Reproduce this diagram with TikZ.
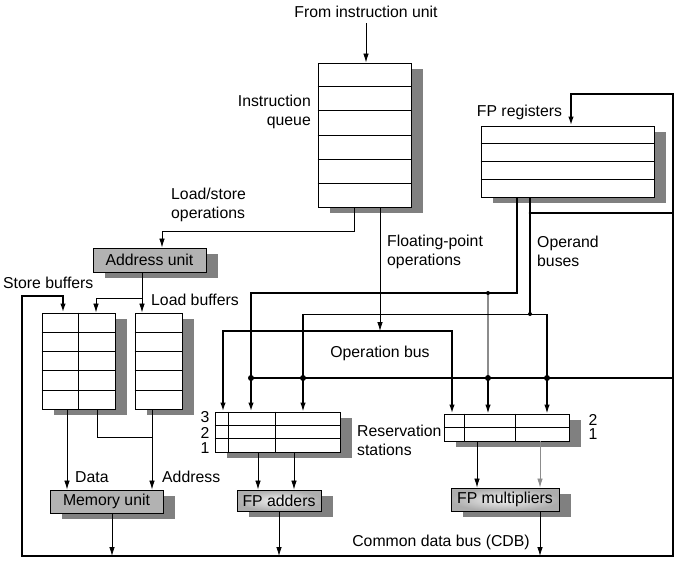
\documentclass[tikz,border=0pt]{standalone}
\usepackage{fontspec}
\setmainfont{Liberation Sans}
\usetikzlibrary{positioning,arrows.meta,shadows,calc}
\tikzstyle{tblbox}=[rectangle, draw=black, fill=white, line width=0.9pt, inner sep=0pt,
 drop shadow={shadow xshift=12pt, shadow yshift=-6pt, fill=black!50, opacity=1}]
\tikzstyle{unitbox}=[rectangle, draw=black, fill=black!30, line width=0.9pt, inner sep=0pt,
 drop shadow={shadow xshift=12pt, shadow yshift=-6pt, fill=black!50, opacity=1}]
\tikzstyle{fpbox}=[unitbox, inner color=black!4, outer color=black!32]
\tikzstyle{lbl}=[inner sep=0pt]
\tikzstyle{wire}=[-, line width=0.8pt]
\tikzstyle{dwire}=[->, line width=0.8pt]
\tikzstyle{mwire}=[->, line width=1.3pt]
\tikzstyle{gwire}=[-, line width=1.2pt, black!45]
\tikzstyle{bus}=[-, line width=1.8pt]
\tikzstyle{dbus}=[->, line width=1.8pt]
\tikzstyle{jdot}=[circle, fill=black, inner sep=0pt, minimum size=6pt]

\begin{document}
\begin{tikzpicture}[x=1pt, y=-1pt, font=\fontsize{15.8}{19}\selectfont,
  >={Latex[length=9pt,width=5.5pt]}, line join=miter]
\useasboundingbox (0,0) rectangle (679,563);

% boxes
\node (iqueue) [tblbox, minimum width=93, minimum height=144] at (364.5,135) {};
\node (fpregs) [tblbox, minimum width=173, minimum height=71] at (567.5,161.5) {};
\node (addrunit) [unitbox, minimum width=113, minimum height=24] at (149.5,260) {Address unit};
\node (storebuf) [tblbox, minimum width=73, minimum height=96] at (78.5,361) {};
\node (loadbuf) [tblbox, minimum width=47, minimum height=96] at (158.5,361) {};
\node (memunit) [unitbox, minimum width=113, minimum height=23] at (106.5,501.5) {Memory unit};
\node (rsadd) [tblbox, minimum width=125, minimum height=40] at (277.5,432) {};
\node (rsmul) [tblbox, minimum width=125, minimum height=27] at (506.5,427.5) {};
\node (fpadd) [fpbox, minimum width=84, minimum height=21] at (279,500.5) {FP adders};
\node (fpmul) [fpbox, minimum width=108, minimum height=23] at (505,499.5) {FP multipliers};

% rows and columns
\foreach \k in {1,...,5}
  \draw[wire] ($(iqueue.north west)!\k/6!(iqueue.south west)$) -- ($(iqueue.north east)!\k/6!(iqueue.south east)$);
\foreach \k in {1,...,3}
  \draw[wire] ($(fpregs.north west)!\k/4!(fpregs.south west)$) -- ($(fpregs.north east)!\k/4!(fpregs.south east)$);
\foreach \k in {1,...,4} {
  \draw[wire] ($(storebuf.north west)!\k/5!(storebuf.south west)$) -- ($(storebuf.north east)!\k/5!(storebuf.south east)$);
  \draw[wire] ($(loadbuf.north west)!\k/5!(loadbuf.south west)$) -- ($(loadbuf.north east)!\k/5!(loadbuf.south east)$);
}
\draw[wire] (storebuf.north) -- (storebuf.south);
\foreach \k in {1,2}
  \draw[wire] ($(rsadd.north west)!\k/3!(rsadd.south west)$) -- ($(rsadd.north east)!\k/3!(rsadd.south east)$);
\foreach \c in {14,61}
  \draw[wire] ($(rsadd.north west)+(\c,0)$) -- ($(rsadd.south west)+(\c,0)$);
\draw[wire] (rsmul.west) -- (rsmul.east);
\foreach \c in {21,72}
  \draw[wire] ($(rsmul.north west)+(\c,0)$) -- ($(rsmul.south west)+(\c,0)$);

% labels
\node (fromtxt) [lbl] at (366,12) {From instruction unit};
\node (iqtxt) [lbl, align=right, anchor=east] at (311,112) {Instruction\\queue};
\node (fprtxt) [lbl] at (519.5,112) {FP registers};
\node (lstxt) [lbl, align=left, anchor=west] at (171,205) {Load/store\\operations};
\node (stbtxt) [lbl, anchor=west] at (3,283) {Store buffers};
\node (lbtxt) [lbl, anchor=west] at (151,300) {Load buffers};
\node (fptxt) [lbl, align=left, anchor=west] at (387,251.5) {Floating-point\\operations};
\node (obtxt) [lbl, align=left, anchor=west] at (537,251.5) {Operand\\buses};
\node (oprtxt) [lbl] at (380,353) {Operation bus};
\node (rstxt) [lbl, align=left, anchor=west] at (357,440) {Reservation\\stations};
\node (rsa3) [lbl] at (205,417) {3};
\node (rsa2) [lbl, below=4pt of rsa3] {2};
\node (rsa1) [lbl, below=4pt of rsa2] {1};
\node (rsm2) [lbl] at (593,420) {2};
\node (rsm1) [lbl, below=3pt of rsm2] {1};
\node (cdbtxt) [lbl] at (441,542) {Common data bus (CDB)};

% instruction queue outputs
\coordinate (lsbend) at (354,231);
\coordinate (lsdrop) at (162,231);
\coordinate (fpop) at (380,331);
\draw[dwire] ([yshift=-5pt]fromtxt.south) -- (fromtxt.south |- iqueue.north);
\draw[dwire] (iqueue.south -| lsbend) -- (lsbend) -- (lsdrop) -- (lsdrop |- addrunit.north);
\draw[dwire] (iqueue.south -| fpop) -- (fpop);

% address unit to buffers
\coordinate (adsplit) at (142,298);
\coordinate (sbaddr) at (96,298);
\draw[wire] (addrunit.south -| adsplit) -- (adsplit);
\draw[dwire] (adsplit) -- (adsplit |- loadbuf.north);
\draw[dwire] (adsplit) -- (sbaddr) -- (sbaddr |- storebuf.north);

% buffers to memory unit
\coordinate (memdata) at (67,477);
\coordinate (sbaddrout) at (97,437);
\coordinate (memaddr) at (152,437);
\draw[dwire] (storebuf.south -| memdata) -- (memdata |- memunit.north);
\draw[wire] (storebuf.south -| sbaddrout) -- (sbaddrout) -- (memaddr);
\draw[dwire] (loadbuf.south -| memaddr) -- (memaddr |- memunit.north);
\node (datatxt) [lbl, right=8pt of memdata] {Data};
\node (addrtxt) [lbl, anchor=west] at (162,477) {Address};

% common data bus
\coordinate (sbdata) at (63,296);
\coordinate (cdbsb) at (22,296);
\coordinate (cdbsw) at (22,556);
\coordinate (cdbse) at (673,556);
\coordinate (cdbne) at (673,94);
\coordinate (cdbreg) at (571,94);
\draw[dbus, <->] (sbdata |- storebuf.north) -- (sbdata) -- (cdbsb) -- (cdbsw) -- (cdbse)
  -- (cdbne) -- (cdbreg) -- (cdbreg |- fpregs.north);
\coordinate (cdbrs) at (673,378);
\coordinate (cdbrsl) at (251,378);
\draw[bus] (cdbrs) -- (cdbrsl);
\coordinate (cdbop) at (673,213);
\coordinate (cdbopl) at (530,213);
\draw[bus] (cdbop) -- (cdbopl);

% operand buses
\coordinate (opa) at (517,293);
\coordinate (opal) at (251,293);
\coordinate (opg) at (488,293);
\coordinate (opgd) at (488,378);
\draw[dbus] (fpregs.south -| opa) -- (opa) -- (opal) -- (opal |- rsadd.north);
\draw[gwire] (opg) -- (opgd);
\draw[mwire] (opgd) -- (opgd |- rsmul.north);
\coordinate (opb) at (530,314);
\coordinate (opbl) at (303,314);
\coordinate (opbr) at (547,314);
\draw[bus] (fpregs.south -| opb) -- (opb);
\draw[wire] (opbl) -- (opbr);
\draw[mwire] (opbl) -- (opbl |- rsadd.north);
\draw[mwire] (opbr) -- (opbr |- rsmul.north);

% operation bus
\coordinate (opl) at (223,331);
\coordinate (opr) at (452,331);
\draw[dbus, <->] (opl |- rsadd.north) -- (opl) -- (opr) -- (opr |- rsmul.north);

% junctions
\foreach \j in {cdbrsl, opgd} \node [jdot] at (\j) {};
\node [jdot] at (opbl |- cdbrs) {};
\node [jdot] at (opbr |- cdbrs) {};
\node [jdot, minimum size=4pt] at (opb) {};
\node [jdot, minimum size=4pt] at (opg) {};
\node [jdot, minimum size=3pt] at (cdbopl) {};

% functional units
\coordinate (fain1) at (258,470);
\coordinate (fain2) at (294,470);
\coordinate (fmin1) at (477,470);
\coordinate (fmin2) at (540,470);
\draw[dwire] (rsadd.south -| fain1) -- (fain1 |- fpadd.north);
\draw[dwire] (rsadd.south -| fain2) -- (fain2 |- fpadd.north);
\draw[dwire] (rsmul.south -| fmin1) -- (fmin1 |- fpmul.north);
\draw[dwire, black!45] (rsmul.south -| fmin2) -- (fmin2 |- fpmul.north);
\draw[dwire] (memunit.south -| 112,0) -- (112,0 |- cdbsw);
\draw[dwire] (fpadd.south) -- (fpadd.south |- cdbsw);
\draw[dwire] (fpmul.south -| fmin2) -- (fmin2 |- cdbsw);

\end{tikzpicture}
\end{document}
